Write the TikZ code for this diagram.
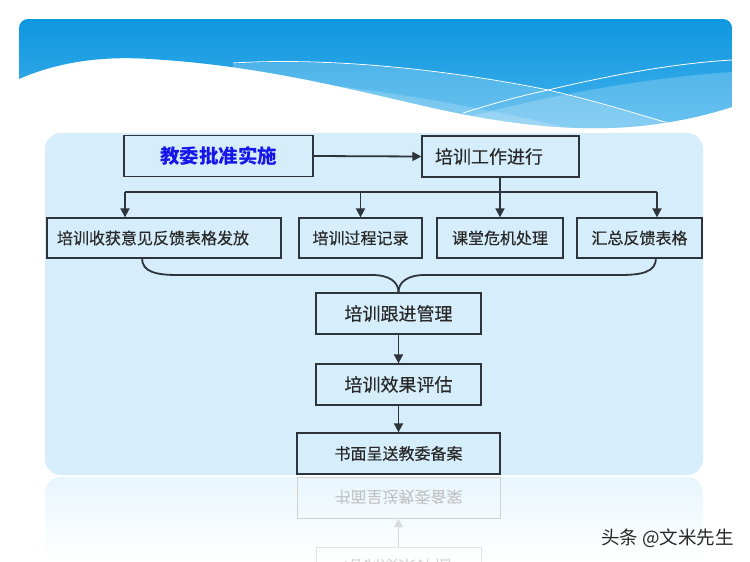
\documentclass[tikz,border=0pt]{standalone}
\usepackage{fontspec}
\usepackage{graphicx}
\newfontfamily\cjk{Noto Sans CJK SC}
\newfontfamily\cjkm[FakeBold=0.35]{Noto Sans CJK SC}
\usetikzlibrary{arrows.meta}
\definecolor{panel}{RGB}{214,238,251}
\definecolor{linec}{RGB}{45,52,60}
\definecolor{txt}{RGB}{40,40,40}
\definecolor{bTop}{RGB}{14,150,223}
\definecolor{bBot}{RGB}{70,180,237}
\definecolor{kblue}{RGB}{22,22,235}
\begin{document}
\begin{tikzpicture}[x=1pt,y=-1pt,
  box/.style={draw=linec, line width=1.3pt, fill=panel, text=txt,
    font=\cjkm\fontsize{16}{16}\selectfont, inner sep=0pt, minimum height=41pt},
  arr/.style={draw=linec, line width=1.8pt, -{Triangle[length=9pt,width=9pt]}},
  conn/.style={draw=linec, line width=1.8pt},
  ghost/.style={draw=gray!35, line width=1pt, fill=none, text=gray!50,
    font=\cjk\fontsize{16}{16}\selectfont, inner sep=0pt, minimum height=41pt}]
\useasboundingbox[fill=white] (0,0) rectangle (750,562);

% ---------- header banner ----------
\begin{scope}
  \clip[rounded corners=9pt] (19,19) rectangle (732,160);
  \clip (19,0) -- (19,79) .. controls (60,61) and (105,56) .. (150,59)
        .. controls (250,65) and (330,84) .. (420,105)
        .. controls (510,126) and (580,132) .. (640,126)
        .. controls (680,122) and (710,114) .. (732,107) -- (732,0) -- cycle;
  \shade[top color=bTop, bottom color=bBot] (19,19) rectangle (732,132);
  \fill[white, opacity=0.2] (233,64) .. controls (330,58) and (450,70) .. (548,91)
        .. controls (600,103) and (640,116) .. (680,126) -- (680,150) -- (233,150) -- cycle;
  \fill[white, opacity=0.18] (300,82) .. controls (380,90) and (470,105) .. (560,126) -- (560,150) -- (300,150) -- cycle;
  \fill[white, opacity=0.2] (430,128) .. controls (520,100) and (640,78) .. (732,72) -- (732,150) -- (430,150) -- cycle;
  \draw[white, line width=0.8pt] (233,63) .. controls (330,57) and (450,70) .. (548,90)
        .. controls (600,102) and (640,115) .. (672,124);
  \draw[white, line width=0.8pt] (463,113) .. controls (495,103) and (520,96) .. (548,90)
        .. controls (620,73) and (680,63) .. (732,60);
\end{scope}

% ---------- panel and its reflection ----------
\fill[panel, rounded corners=16pt] (45,133) rectangle (703,475);
\shade[top color=panel!55, bottom color=white, rounded corners=16pt] (45,477) rectangle (703,562);

% ---------- nodes ----------
\node[box, minimum width=189pt, text=kblue, font=\cjk\bfseries\fontsize{19.5}{19.5}\selectfont] (b1) at (218.5,156) {教委批准实施};
\node[box, text width=131pt, inner xsep=13pt, align=left, font=\cjkm\fontsize{18}{18}\selectfont] (b2) at (500.5,156.5) {培训工作进行};

\node[box, text width=214pt, inner xsep=10pt, align=left, minimum height=40pt] (r1) at (164,238) {培训收获意见反馈表格发放};
\node[box, minimum width=123pt, minimum height=40pt] (r2) at (360.5,238) {培训过程记录};
\node[box, minimum width=126pt, minimum height=40pt] (r3) at (500,238) {课堂危机处理};
\node[box, minimum width=125pt, minimum height=40pt] (r4) at (639.5,238) {汇总反馈表格};

\node[box, minimum width=165pt, font=\cjkm\fontsize{18}{18}\selectfont] (m1) at (398.5,313.5) {培训跟进管理};
\node[box, minimum width=165pt, font=\cjkm\fontsize{18}{18}\selectfont] (m2) at (398.5,384.5) {培训效果评估};
\node[box, minimum width=203pt] (m3) at (398.5,453.5) {书面呈送教委备案};

% ---------- connectors ----------
\draw[arr] (b1.east) -- (b2.west);
\coordinate (busL) at (125,192);
\coordinate (busR) at (657,192);
\draw[conn] (busL) -- (busR);
\draw[arr] (busL) -- (busL |- r1.north);
\draw[arr] (r2.north |- busL) -- (r2.north);
\draw[arr] (b2.south -| r3.north) -- (r3.north);
\draw[arr] (busR) -- (busR |- r4.north);

\coordinate (bl) at (142,258);
\coordinate (br) at (656,258);
\draw[conn] (bl) .. controls +(0,14) and +(-22,0) .. (178,275) -- (372,275)
  .. controls +(18,0) and +(0,-10) .. (m1.north);
\draw[conn] (br) .. controls +(0,14) and +(22,0) .. (620,275) -- (425,275)
  .. controls +(-18,0) and +(0,-10) .. (m1.north);

\draw[arr] (m1.south) -- (m2.north);
\draw[arr] (m2.south) -- (m3.north);

% ---------- reflection ----------
\begin{scope}
  \clip (0,477) rectangle (750,562);
  \node[ghost, minimum width=203pt] (m3r) at (398.5,498) {\scalebox{1}[-1]{书面呈送教委备案}};
  \node[ghost, draw=gray!22, text=gray!32, minimum width=165pt, font=\cjk\fontsize{18}{18}\selectfont] (m2r) at (398.5,567.5) {\scalebox{1}[-1]{培训效果评估}};
  \draw[draw=gray!30, line width=1.3pt, -{Triangle[length=8pt,width=8.5pt]}] (m2r.north) -- (m3r.south);
\end{scope}

% ---------- watermark ----------
\node[anchor=east, text=txt, font=\cjk\fontsize{18.5}{18.5}\selectfont, inner sep=0pt] (wm) at (734,538) {头条 @文米先生};
\end{tikzpicture}
\end{document}
